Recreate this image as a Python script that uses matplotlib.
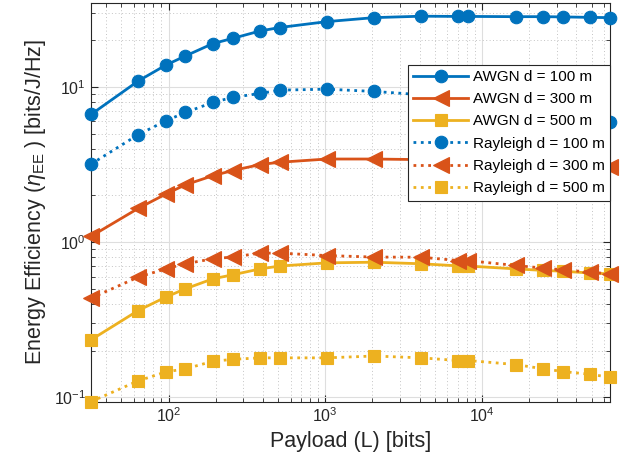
import numpy as np
import matplotlib
matplotlib.use("Agg")
import matplotlib.pyplot as plt
from matplotlib.ticker import LogLocator, NullFormatter, FixedLocator

plt.rcParams.update({
    'font.family': ['Liberation Sans', 'DejaVu Sans'],
    'mathtext.fontset': 'custom',
    'mathtext.rm': 'Liberation Sans',
    'mathtext.it': 'Liberation Sans:italic',
    'mathtext.default': 'it',
})

# payload sizes (bits)
payload = [32, 64, 96, 128, 192, 256, 384, 512, 1024, 2048, 4096, 7000,
           8192, 16384, 24576, 32768, 49152, 65536]

# energy efficiency [bits/J/Hz]
awgn_100 = [6.64, 10.9, 13.8, 15.8, 19.0, 20.5, 22.9, 24.1, 26.3, 27.9, 28.5,
            28.4, 28.4, 28.3, 28.3, 28.2, 28.0, 27.9]
awgn_300 = [1.09, 1.65, 2.04, 2.34, 2.68, 2.89, 3.16, 3.27, 3.43, 3.43, 3.40,
            3.36, 3.34, 3.26, 3.19, 3.14, 3.08, 3.03]
awgn_500 = [0.235, 0.363, 0.443, 0.501, 0.581, 0.616, 0.673, 0.702, 0.736,
            0.743, 0.726, 0.704, 0.702, 0.673, 0.658, 0.650, 0.633, 0.625]
ray_100 = [3.18, 4.92, 6.04, 6.84, 7.94, 8.55, 9.07, 9.52, 9.66, 9.34, 8.9,
           8.5, 8.3, 7.4, 6.9, 6.6, 6.2, 5.91]
ray_300 = [0.436, 0.596, 0.673, 0.726, 0.782, 0.802, 0.850, 0.850, 0.820,
           0.802, 0.800, 0.762, 0.760, 0.708, 0.681, 0.664, 0.641, 0.625]
ray_500 = [0.094, 0.128, 0.146, 0.153, 0.171, 0.176, 0.180, 0.180, 0.180,
           0.185, 0.180, 0.173, 0.173, 0.163, 0.153, 0.147, 0.141, 0.135]

blue, red, yellow = '#0072BD', '#D95319', '#EDB120'

fig = plt.figure(figsize=(6.25, 4.72), dpi=100)
ax = fig.add_axes([0.1456, 0.149, 0.8304, 0.844])

series = [
    (awgn_100, blue, '-', 'o', 9, 'AWGN d = 100 m'),
    (awgn_300, red, '-', '<', 11, 'AWGN d = 300 m'),
    (awgn_500, yellow, '-', 's', 8, 'AWGN d = 500 m'),
    (ray_100, blue, ':', 'o', 9, 'Rayleigh d = 100 m'),
    (ray_300, red, ':', '<', 11, 'Rayleigh d = 300 m'),
    (ray_500, yellow, ':', 's', 8, 'Rayleigh d = 500 m'),
]
for y, c, ls, mk, ms, lab in series:
    ax.plot(payload, y, color=c, linestyle=ls, linewidth=2, marker=mk,
            markersize=ms, markerfacecolor=c, markeredgecolor=c,
            markeredgewidth=0.8, label=lab, clip_on=False, zorder=3)

ax.set_xscale('log')
ax.set_yscale('log')
ax.set_xlim(32, 65536)
ax.set_ylim(0.094, 34.5)

ax.xaxis.set_major_locator(FixedLocator([1e2, 1e3, 1e4]))
ax.set_xticklabels([r'$\mathregular{10^{2}}$', r'$\mathregular{10^{3}}$',
                    r'$\mathregular{10^{4}}$'])
ax.yaxis.set_major_locator(FixedLocator([1e-1, 1e0, 1e1]))
ax.set_yticklabels([r'$\mathregular{10^{-1}}$', r'$\mathregular{10^{0}}$',
                    r'$\mathregular{10^{1}}$'])
for a in (ax.xaxis, ax.yaxis):
    a.set_minor_locator(LogLocator(base=10, subs=np.arange(2, 10), numticks=20))
    a.set_minor_formatter(NullFormatter())

ax.tick_params(which='both', direction='in', top=True, right=True,
               colors='#262626', labelsize=11.5)
ax.tick_params(which='major', length=5, width=0.8)
ax.tick_params(which='minor', length=3, width=0.6)
for s in ax.spines.values():
    s.set_color('#262626')
    s.set_linewidth(0.8)

ax.grid(True, which='major', color='#dedede', linestyle='-', linewidth=0.8)
ax.grid(True, which='minor', color='#c4c4c4', linestyle=(0, (1, 2.5)),
        linewidth=0.7)
ax.set_axisbelow(True)

ax.set_xlabel('Payload (L) [bits]', fontsize=15.5, color='#262626')
ax.set_ylabel(r'Energy Efficiency ($\eta_{\mathregular{EE}}$ ) [bits/J/Hz]',
              fontsize=15.5, color='#262626')

leg = ax.legend(loc='upper right', bbox_to_anchor=(1.0, 0.846), fontsize=11,
                handlelength=3.6, handletextpad=0.3, labelspacing=0.54,
                borderpad=0.35, borderaxespad=0, fancybox=False,
                framealpha=1, edgecolor='#262626')
leg.get_frame().set_linewidth(0.8)
leg.set_zorder(5)

fig.savefig('out.png', dpi=100)
